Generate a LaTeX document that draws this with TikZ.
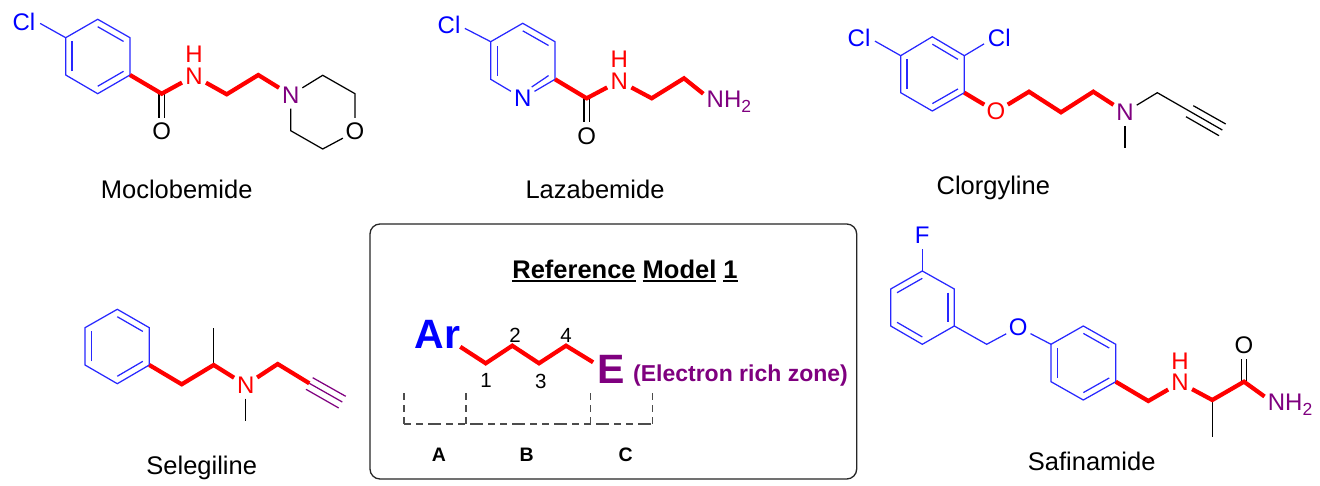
\documentclass[tikz,border=0pt]{standalone}
\usepackage{fontspec}
\setmainfont{Liberation Sans}
\usetikzlibrary{calc}
\definecolor{chemblue}{RGB}{0,0,255}
\definecolor{ringblue}{RGB}{40,40,255}
\definecolor{chempurple}{RGB}{127,0,127}
\definecolor{chemred}{RGB}{255,0,0}
\newcommand\fsz[1]{\fontsize{#1}{#1}\selectfont}
\newcommand\ulword[1]{\setbox0\hbox{#1}\leavevmode\rlap{\raisebox{-3pt}{\rule{\wd0}{1.7pt}}}\box0\relax}
\newcommand\amine{NH\raisebox{-5.5pt}{\fsz{17.5}2}}
\newcommand\hexring[7]{% names a b c d e f and colour
  \draw[#7] (#1) -- (#2) -- (#3) -- (#4) -- (#5) -- (#6) -- cycle;}
\tikzset{
  x=1pt,y=-1pt,
  thinbk/.style={line width=1.25pt,draw=black},
  thinbl/.style={line width=1.25pt,draw=ringblue},
  thinpu/.style={line width=1.25pt,draw=chempurple},
  redbond/.style={line width=4.2pt,draw=chemred},
  dbl/.style={double=white,double distance=4pt,line width=1.25pt,draw=black},
  atom/.style={circle,inner sep=0pt,minimum size=27pt,font=\fsz{24}},
  clatom/.style={atom,minimum size=32pt,text=chemblue},
  free/.style={inner sep=0pt,font=\fsz{24}},
  caption/.style={anchor=base,inner sep=0pt,font=\fsz{25.5}},
  num/.style={inner sep=0pt,font=\fsz{20.5}},
  zone/.style={inner sep=0pt,font=\fsz{19.5}\bfseries},
  dashv/.style={line width=1.2pt,draw=black!70,dash pattern=on 6.3pt off 5.7pt},
  dashh/.style={line width=1.2pt,draw=black!70,dash pattern=on 7pt off 5pt on 7pt off 5pt on 13pt off 5pt},
  panel/.style={draw=black!85,line width=1.3pt,rounded corners=10pt,fill=white},
}
\begin{document}
\begin{tikzpicture}
\path[use as bounding box] (0,0) rectangle (1320,486);
% ---------- Moclobemide
\coordinate (ma) at (97.7,19.3); \coordinate (mb) at (130,37.7); \coordinate (mc) at (130,75);
\coordinate (md) at (97.7,93.7); \coordinate (me) at (65.7,75); \coordinate (mf) at (65.7,37.7);
\coordinate (mo) at (97.8,56.5);
\coordinate (mC) at (161.7,93.7); \coordinate (m1) at (226.7,94.3); \coordinate (m2) at (258.3,75);
\coordinate (m3) at (322.7,75.3); \coordinate (m4) at (355,93.7); \coordinate (m5) at (322.7,149); \coordinate (m6) at (290.7,130.7);
\node[clatom] (mCl) at (24,21.7) {Cl};
\node[atom] (mO) at (161.7,131.7) {O};
\node[atom,text=chemred] (mN) at (194,76) {N};
\node[free,text=chemred] (mH) at (194,54) {H};
\node[atom,text=chempurple] (mN2) at (290.7,95) {N};
\node[atom] (mO2) at (355,131.7) {O};
\hexring{ma}{mb}{mc}{md}{me}{mf}{thinbl}
\draw[thinbl] ($(ma)!.2!(mo)$) -- ($(mb)!.2!(mo)$);
\draw[thinbl] ($(mc)!.2!(mo)$) -- ($(md)!.2!(mo)$);
\draw[thinbl] ($(me)!.2!(mo)$) -- ($(mf)!.2!(mo)$);
\draw[thinbl] (mf) -- (mCl.-6);
\draw[dbl] (mC) -- (mO);
\draw[redbond] (mc) -- (mC) -- (mN);
\draw[redbond] (mN) -- (m1) -- (m2) -- (mN2);
\draw[thinbk] (mN2) -- (m3) -- (m4) -- (mO2) -- (m5) -- (m6) -- (mN2);
\node[caption] (mname) at (176.7,199) {Moclobemide};
% ---------- Lazabemide
\coordinate (la) at (522.7,23.3); \coordinate (lb) at (555,41.7); \coordinate (lc) at (555,79.3);
\coordinate (le) at (490.7,79.3); \coordinate (lf) at (490.7,41.7);
\coordinate (lo) at (522.8,60.8); \coordinate (lg) at (531.7,87);
\coordinate (lC) at (586.7,98.3); \coordinate (l1) at (651.7,98.3); \coordinate (l2) at (684,78.3);
\node[atom,text=chemblue] (lNr) at (522.7,98.3) {N};
\node[clatom] (lCl) at (449,25) {Cl};
\node[atom] (lO) at (586.7,136) {O};
\node[atom,text=chemred] (lN) at (619.3,81) {N};
\node[free,text=chemred] (lH) at (619.3,59.3) {H};
\node[free,anchor=base west,text=chempurple] (lam) at (706.5,107.5) {\amine};
\draw[thinbl] (lNr) -- (lc) -- (lb) -- (la) -- (lf) -- (le) -- (lNr);
\draw[thinbl] ($(la)!.2!(lo)$) -- ($(lb)!.2!(lo)$);
\draw[thinbl] ($(lc)!.2!(lo)$) -- (lg);
\draw[thinbl] ($(le)!.2!(lo)$) -- ($(lf)!.2!(lo)$);
\draw[thinbl] (lf) -- (lCl.-12);
\draw[dbl] (lC) -- (lO);
\draw[redbond] (lc) -- (lC) -- (lN);
\draw[redbond] (lN) -- (l1) -- (l2) -- ($(lam.north west)+(-3.2,3)$);
\node[caption] (lname) at (595,199) {Lazabemide};
% ---------- Clorgyline
\coordinate (ca) at (932.3,36.7); \coordinate (cb) at (964.3,55.7); \coordinate (cc) at (964.3,92.7);
\coordinate (cd) at (932.3,111); \coordinate (ce) at (900.7,92.7); \coordinate (cf) at (900.7,55.7);
\coordinate (co) at (932.5,74);
\coordinate (c1) at (1029,91.7); \coordinate (c2) at (1061,112.3); \coordinate (c3) at (1093.3,91.7);
\coordinate (c4) at (1157.3,92.7); \coordinate (c5) at (1125,148.3); \coordinate (c6) at (1222.3,130);
\coordinate (c7) at (1193.3,105.7); \coordinate (c8) at (1225.7,124); \coordinate (c9) at (1186,116.7); \coordinate (c10) at (1219,135.7);
\node[clatom] (cCl1) at (859,38.3) {Cl};
\node[clatom] (cCl2) at (999.3,38.3) {Cl};
\node[atom,text=chemred] (cO) at (996,111.7) {O};
\node[atom,text=chempurple] (cN) at (1125,112.3) {N};
\hexring{ca}{cb}{cc}{cd}{ce}{cf}{thinbl}
\draw[thinbl] ($(ca)!.2!(co)$) -- ($(cb)!.2!(co)$);
\draw[thinbl] ($(cc)!.2!(co)$) -- ($(cd)!.2!(co)$);
\draw[thinbl] ($(ce)!.2!(co)$) -- ($(cf)!.2!(co)$);
\draw[thinbl] (cf) -- (cCl1.-10);
\draw[thinbl] (cb) -- (cCl2.200);
\draw[redbond] (cc) -- (cO);
\draw[redbond] (cO) -- (c1) -- (c2) -- (c3) -- (cN);
\draw[thinbk] (cN) -- (c5);
\draw[thinbk] (cN) -- (c4) -- (c6);
\draw[thinbk] (c7) -- (c8);
\draw[thinbk] (c9) -- (c10);
\node[caption] (cname) at (993.3,194.3) {Clorgyline};
% ---------- Selegiline
\coordinate (sa) at (117.3,309.3); \coordinate (sb) at (149.3,327.7); \coordinate (sc) at (149.3,365);
\coordinate (sd) at (117.3,383.7); \coordinate (se) at (85,365); \coordinate (sf) at (85,327.7);
\coordinate (so) at (117.2,346.5);
\coordinate (s1) at (181.7,384.3); \coordinate (s2) at (213.7,365); \coordinate (s3) at (213.7,327.7);
\coordinate (s4) at (245.7,420.7); \coordinate (s5) at (277.7,364); \coordinate (s6) at (309.3,383.3);
\coordinate (s7) at (342.3,402); \coordinate (s8) at (312.7,377.7); \coordinate (s9) at (345.7,396.3);
\coordinate (s10) at (306,389.3); \coordinate (s11) at (338.7,408);
\node[atom,text=chemred] (sN) at (245.7,385) {N};
\hexring{sa}{sb}{sc}{sd}{se}{sf}{thinbl}
\draw[thinbl] ($(sa)!.2!(so)$) -- ($(sb)!.2!(so)$);
\draw[thinbl] ($(sc)!.2!(so)$) -- ($(sd)!.2!(so)$);
\draw[thinbl] ($(se)!.2!(so)$) -- ($(sf)!.2!(so)$);
\draw[thinbk] (s2) -- (s3);
\draw[thinbk] (sN) -- (s4);
\draw[thinpu] (s6) -- (s7);
\draw[thinpu] (s8) -- (s9);
\draw[thinpu] (s10) -- (s11);
\draw[redbond] (sc) -- (s1) -- (s2) -- (sN);
\draw[redbond] (sN) -- (s5) -- (s6);
\node[caption] (sname) at (201.7,474.3) {Selegiline};
% ---------- Reference model panel
\node[panel,minimum width=486.7pt,minimum height=255pt,inner sep=0pt] (box) at (613.35,351.5) {};
\node[inner sep=0pt,font=\fsz{25.5}\bfseries] (title) at (625,271) {\ulword{Reference} \ulword{Model} \ulword{1}};
\node[inner sep=0pt,text=chemblue,font=\fsz{41}\bfseries] (ar) at (437.3,334) {Ar};
\node[inner sep=0pt,text=chempurple,font=\fsz{41}\bfseries] (elec) at (611,369) {E};
\node[inner sep=0pt,text=chempurple,font=\fsz{23}\bfseries] (rich) at (740.5,375.7) {(Electron rich zone)};
\coordinate (k1) at (485.7,363.3); \coordinate (k2) at (512.3,345.7); \coordinate (k3) at (539,363.3); \coordinate (k4) at (566,345.7);
\draw[redbond] ($(ar.south east)+(0,-1.5)$) -- (k1) -- (k2) -- (k3) -- (k4) -- ($(elec.west)+(-4,-6.7)$);
\node[num] (n1) at (486,380.7) {1};
\node[num] (n2) at (515,335) {2};
\node[num] (n3) at (540.7,381.7) {3};
\node[num] (n4) at (566,335) {4};
\coordinate (d1) at (404,393.3); \coordinate (d2) at (404,424);
\coordinate (d3) at (466,393.3); \coordinate (d4) at (466,424);
\coordinate (d5) at (590.3,393.3); \coordinate (d6) at (590.3,424);
\coordinate (d7) at (652.3,393.3); \coordinate (d8) at (652.3,424);
\draw[dashv] (d1) -- (d2);
\draw[dashv] (d3) -- (d4);
\draw[dashv] (d5) -- (d6);
\draw[dashv] (d7) -- (d8);
\draw[dashh] (d2) -- (d8);
\node[zone] (zA) at (439,454.3) {A};
\node[zone] (zB) at (526.7,454.3) {B};
\node[zone] (zC) at (625.7,454.3) {C};
% ---------- Safinamide
\coordinate (fa) at (922.3,271); \coordinate (fb) at (954.3,289); \coordinate (fc) at (954.3,326);
\coordinate (fd) at (922.3,344.3); \coordinate (fe) at (890.7,326); \coordinate (ff) at (890.7,289);
\coordinate (fo) at (922.4,307.6);
\coordinate (ga) at (1083.3,326); \coordinate (gb) at (1115.7,344.3); \coordinate (gc) at (1115.7,381.7);
\coordinate (gd) at (1083.3,400); \coordinate (ge) at (1051,381.7); \coordinate (gf) at (1051,344.3);
\coordinate (go) at (1083.4,363);
\coordinate (f1) at (986.7,344.3); \coordinate (f2) at (1148.3,401); \coordinate (f3) at (1212.3,400);
\coordinate (f4) at (1244,381.7); \coordinate (f5) at (1212.3,437.3);
\node[atom,text=chemblue] (fF) at (922.3,235) {F};
\node[atom,text=chemblue] (fO) at (1018.3,327.3) {O};
\node[atom,text=chemred] (fN) at (1180,382.7) {N};
\node[free,text=chemred] (fH) at (1180,361) {H};
\node[atom] (fO2) at (1244,345.7) {O};
\node[free,anchor=base west,text=chempurple] (fam) at (1267.7,410.2) {\amine};
\hexring{fa}{fb}{fc}{fd}{fe}{ff}{thinbl}
\draw[thinbl] ($(fa)!.2!(fo)$) -- ($(ff)!.2!(fo)$);
\draw[thinbl] ($(fb)!.2!(fo)$) -- ($(fc)!.2!(fo)$);
\draw[thinbl] ($(fd)!.2!(fo)$) -- ($(fe)!.2!(fo)$);
\draw[thinbl] (fa) -- (fF);
\draw[thinbl] (fc) -- (f1) -- (fO);
\draw[thinbl] (fO) -- (gf);
\hexring{ga}{gb}{gc}{gd}{ge}{gf}{thinbl}
\draw[thinbl] ($(ga)!.2!(go)$) -- ($(gb)!.2!(go)$);
\draw[thinbl] ($(gc)!.2!(go)$) -- ($(gd)!.2!(go)$);
\draw[thinbl] ($(ge)!.2!(go)$) -- ($(gf)!.2!(go)$);
\draw[thinbk] (f3) -- (f5);
\draw[dbl] (f4) -- (fO2);
\draw[redbond] (gc) -- (f2) -- (fN);
\draw[redbond] (fN) -- (f3) -- (f4) -- ($(fam.north west)+(-3.2,3)$);
\node[caption] (fname) at (1091.7,470.7) {Safinamide};
\end{tikzpicture}
\end{document}
